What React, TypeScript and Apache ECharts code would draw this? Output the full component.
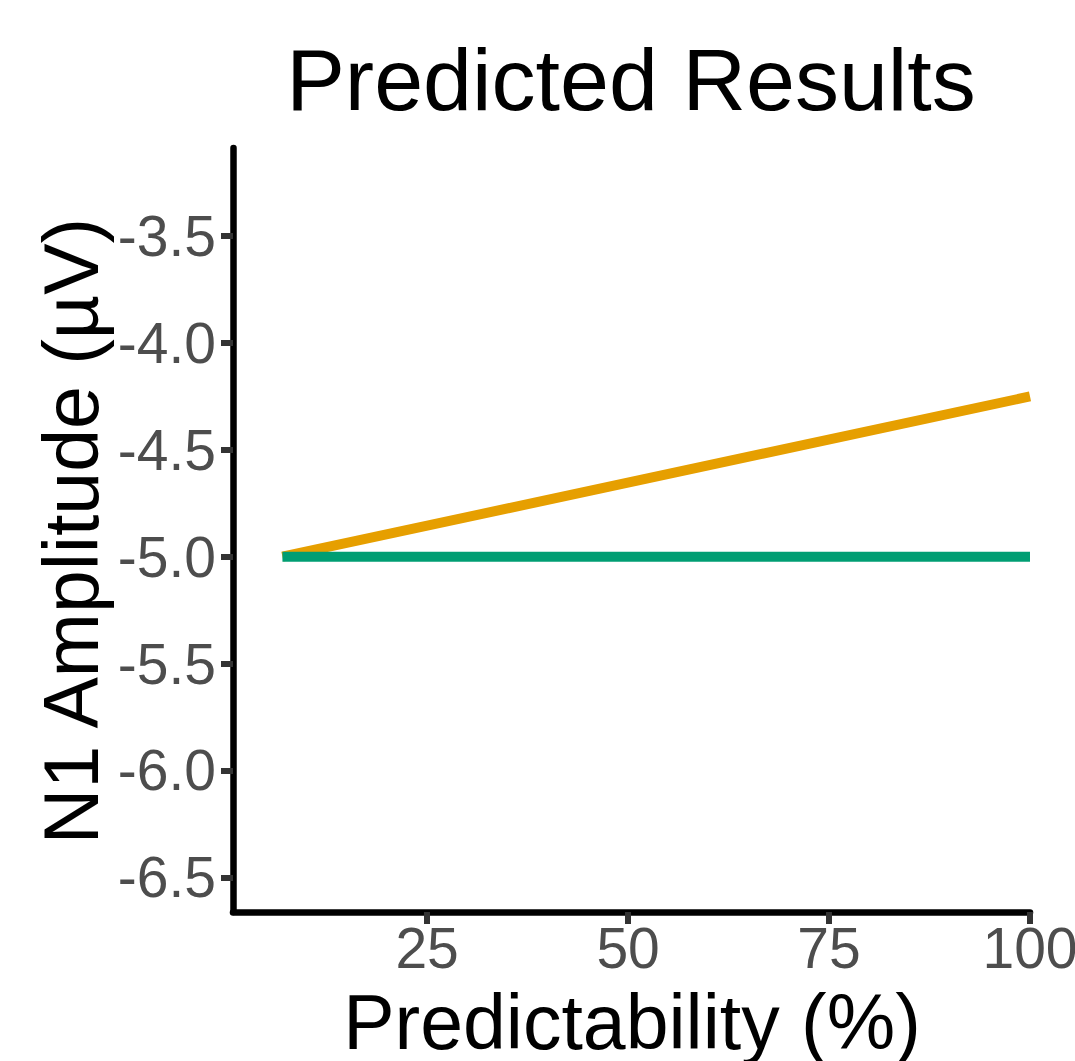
import React, { useEffect, useRef } from "react";
import * as echarts from "echarts";

const xValues = [7, 100];
const unpredictableSeries = [-5.0, -5.0];
const predictableSeries = [-5.0, -4.25];
const yTicks = [-6.5, -6.0, -5.5, -5.0, -4.5, -4.0, -3.5];
const xTicks = [25, 50, 75, 100];

const FONT = "'Liberation Sans', Arial, Helvetica, sans-serif";

export default function App() {
  const ref = useRef<HTMLDivElement>(null);

  useEffect(() => {
    if (!ref.current) return;
    const chart = echarts.init(ref.current, undefined, { renderer: "svg" });
    const pairs = (ys: number[]) => xValues.map((x, i) => [x, ys[i]]);
    chart.setOption({
      animation: false,
      backgroundColor: "#ffffff",
      grid: {
        left: 233,
        right: 45,
        top: 148,
        bottom: 149,
        containLabel: false,
        outerBoundsMode: "none",
      },
      xAxis: {
        type: "value",
        min: 0.85,
        max: 100,
        splitLine: { show: false },
        axisLine: { show: true, onZero: false, lineStyle: { color: "#000000", width: 6.5 } },
        axisTick: {
          show: true,
          length: 12,
          customValues: xTicks,
          lineStyle: { color: "#333333", width: 6 },
        },
        axisLabel: {
          show: true,
          customValues: xTicks,
          margin: 14,
          color: "#4D4D4D",
          fontSize: 57,
          lineHeight: 44,
          fontFamily: FONT,
          formatter: (v: number) => String(v),
        },
      },
      yAxis: {
        type: "value",
        min: -6.6625,
        max: -3.0875,
        splitLine: { show: false },
        axisLine: { show: true, onZero: false, lineStyle: { color: "#000000", width: 6.5 } },
        axisTick: {
          show: true,
          length: 12,
          customValues: yTicks,
          lineStyle: { color: "#333333", width: 6 },
        },
        axisLabel: {
          show: true,
          customValues: yTicks,
          margin: 17,
          color: "#4D4D4D",
          fontSize: 57,
          fontFamily: FONT,
          formatter: (v: number) => v.toFixed(1),
        },
      },
      graphic: [
        {
          type: "text",
          x: 631,
          y: 79,
          style: {
            text: "Predicted Results",
            fontSize: 88,
            fontFamily: FONT,
            fill: "#000000",
            align: "center",
            verticalAlign: "middle",
          },
        },
        {
          type: "text",
          x: 632,
          y: 1022,
          style: {
            text: "Predictability (%)",
            fontSize: 77,
            lineHeight: 60,
            fontFamily: FONT,
            fill: "#000000",
            align: "center",
            verticalAlign: "middle",
          },
        },
        {
          type: "text",
          x: 71,
          y: 531,
          rotation: Math.PI / 2,
          style: {
            text: "N1 Amplitude (µV)",
            fontSize: 77,
            fontFamily: FONT,
            fill: "#000000",
            align: "center",
            verticalAlign: "middle",
          },
        },
      ],
      series: [
        {
          name: "Predictable",
          type: "line",
          data: pairs(predictableSeries),
          showSymbol: false,
          symbol: "none",
          lineStyle: { color: "#E69F00", width: 10, cap: "butt" },
          z: 2,
        },
        {
          name: "Unpredictable",
          type: "line",
          data: pairs(unpredictableSeries),
          showSymbol: false,
          symbol: "none",
          lineStyle: { color: "#009E73", width: 10, cap: "butt" },
          z: 3,
        },
      ],
    });
    return () => chart.dispose();
  }, []);

  return (
    <div
      ref={ref}
      style={{ position: "fixed", left: 0, top: 0, width: 1075, height: 1061 }}
    />
  );
}
